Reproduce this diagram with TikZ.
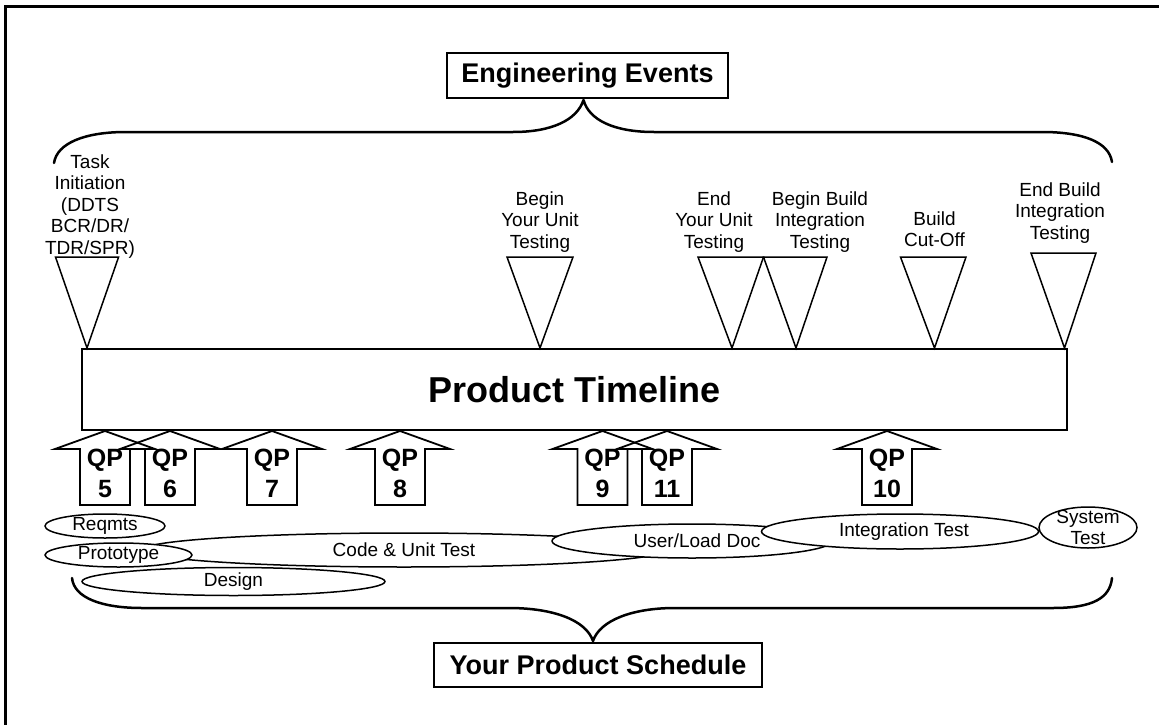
\documentclass[tikz,border=0pt]{standalone}
\usepackage{fontspec}
\setmainfont{Liberation Sans}
\usetikzlibrary{shapes.geometric}
\begin{document}
\begin{tikzpicture}[x=1pt,y=-1pt,
  evtext/.style={font=\fontsize{19}{21.5}\selectfont, align=center, inner sep=0pt},
  titlebox/.style={draw, line width=2pt, font=\bfseries\fontsize{27}{30}\selectfont, inner sep=0pt},
  tri/.style={draw, line width=1.5pt, line join=miter},
  qparrow/.style={draw, line width=1.8pt},
  qptext/.style={font=\bfseries\fontsize{25}{31}\selectfont, align=center, inner sep=0pt},
  phase/.style={draw, ellipse, fill=white, line width=1.5pt, inner sep=0pt},
  brace/.style={draw, line width=2.5pt, line cap=round, line join=round},
  frameline/.style={draw, line width=3.5pt}
]
\fill[white] (0,0) rectangle (1159,725);
\useasboundingbox (0,0) rectangle (1159,725);
\draw[frameline] (5.7,725) -- (5.7,6.7) -- (1159,6.7);

% title boxes
\node[titlebox, minimum width=281pt, minimum height=45pt] (ee) at (587.5,75.5) {Engineering Events};
\node[titlebox, minimum width=985pt, minimum height=81pt, font=\bfseries\fontsize{36}{40}\selectfont] (pt) at (574.5,389.5) {Product Timeline};
\node[titlebox, minimum width=328pt, minimum height=44pt] (ps) at (598,665) {Your Product Schedule};

% braces
\coordinate (etip) at ([xshift=-4pt,yshift=-1pt]ee.south);
\coordinate (ptip) at ([xshift=-5pt,yshift=1pt]ps.north);
\draw[brace] (54,163) .. controls (57,143) and (85,132) .. (126,132) -- (513,132)
  .. controls (552,132) and (577,120) .. (etip)
  .. controls (589,120) and (614,132) .. (654,132) -- (1042,132)
  .. controls (1083,132) and (1109,142) .. (1112,162);
\draw[brace] (72,578) .. controls (74,598) and (102,608) .. (142,608) -- (509,608)
  .. controls (553,608) and (586,620) .. (ptip)
  .. controls (600,620) and (633,608) .. (675,608) -- (1053,608)
  .. controls (1093,608) and (1110,598) .. (1112,578);

% event triangles and labels
\draw[tri] (55.5,257) -- (118.6,257) -- (87,0 |- pt.north) -- cycle;
\node[evtext] (e1) at (90,206.5) {Task\\Initiation\\(DDTS\\BCR/DR/\\TDR/SPR)};
\draw[tri] (507,257) -- (573,257) -- (540,0 |- pt.north) -- cycle;
\node[evtext] (e2) at (540,222) {Begin\\Your Unit\\Testing};
\draw[tri] (698,257) -- (763.5,257) -- (732,0 |- pt.north) -- cycle;
\node[evtext] (e3) at (714,222) {End\\Your Unit\\Testing};
\draw[tri] (763.5,257) -- (827,257) -- (796,0 |- pt.north) -- cycle;
\node[evtext] (e4) at (820,222) {Begin Build\\Integration\\Testing};
\draw[tri] (900.5,257) -- (966,257) -- (934.5,0 |- pt.north) -- cycle;
\node[evtext] (e5) at (934.5,229) {Build\\Cut-Off};
\draw[tri] (1031,253) -- (1096,253) -- (1064.5,0 |- pt.north) -- cycle;
\node[evtext] (e6) at (1060,213) {End Build\\Integration\\Testing};

% QP arrows
\foreach \c/\n in {105/5,170/6,272/7,400/8,602.5/9,667/11,887/10} {
  \draw[qparrow] (\c-25,505) -- (\c-25,449) -- (\c-50,449) -- (\c,0 |- pt.south)
    -- (\c+50,449) -- (\c+25,449) -- (\c+25,505) -- cycle;
  \node[qptext] (qp\n) at (\c,473) {QP\\\n};
}

% phase ellipses
\node[phase, minimum width=524pt, minimum height=34pt] (code) at (404,550) {};
\node[evtext] at (code) {Code \& Unit Test};
\node[phase, minimum width=280pt, minimum height=34pt] (uld) at (692,541) {};
\node[evtext] at ([xshift=5pt]uld.center) {User/Load Doc};
\node[phase, minimum width=277pt, minimum height=35pt] (it) at (900,531.5) {};
\node[evtext] at ([xshift=4pt]it.center) {Integration Test};
\node[phase, minimum width=98pt, minimum height=41pt] (st) at (1088,527.5) {};
\node[evtext] at (st) {System\\Test};
\node[phase, minimum width=303pt, minimum height=28pt] (des) at (233.5,581.5) {};
\node[evtext] at (des) {Design};
\node[phase, minimum width=120pt, minimum height=24pt] (req) at (105,526) {};
\node[evtext] at (req) {Reqmts};
\node[phase, minimum width=147pt, minimum height=24pt] (proto) at (118.5,555) {};
\node[evtext] at (proto) {Prototype};
\end{tikzpicture}
\end{document}
